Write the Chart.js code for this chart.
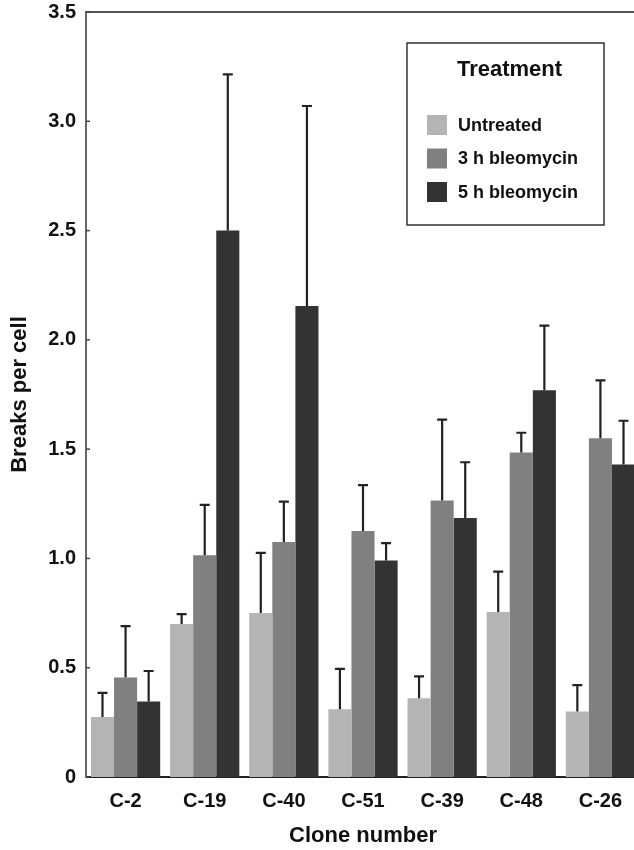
<!DOCTYPE html>
<html lang="en">
<head>
    <meta charset="UTF-8">
    <title>Breaks per cell by clone</title>
    <script src="https://cdn.jsdelivr.net/npm/chart.js"></script>
    <style>
        body, html {
            margin: 0;
            padding: 0;
            background: #fff;
            overflow: hidden;
        }
        canvas {
            display: block;
        }
    </style>
</head>
<body>
    <canvas id="breaksChart" width="640" height="850"></canvas>
    <script>
        const clones = ['C-2', 'C-19', 'C-40', 'C-51', 'C-39', 'C-48', 'C-26'];
        const seriesNames = ['Untreated', '3 h bleomycin', '5 h bleomycin'];
        const untreated = [0.275, 0.70, 0.75, 0.31, 0.36, 0.755, 0.30];
        const untreatedErr = [0.11, 0.045, 0.275, 0.185, 0.10, 0.185, 0.12];
        const bleo3h = [0.455, 1.015, 1.075, 1.125, 1.265, 1.485, 1.55];
        const bleo3hErr = [0.235, 0.23, 0.185, 0.21, 0.37, 0.09, 0.265];
        const bleo5h = [0.345, 2.50, 2.155, 0.99, 1.185, 1.77, 1.43];
        const bleo5hErr = [0.14, 0.715, 0.915, 0.08, 0.255, 0.295, 0.20];
        const yTickLabels = ['0', '0.5', '1.0', '1.5', '2.0', '2.5', '3.0', '3.5'];

        const barColors = ['#b4b4b4', '#808080', '#333333'];
        const FONT = "'Liberation Sans', Arial, sans-serif";

        // error bars, frame, inner tick marks
        const extrasPlugin = {
            id: 'extras',
            afterDatasetsDraw(chart) {
                const ctx = chart.ctx;
                const y = chart.scales.y;
                const area = chart.chartArea;
                ctx.save();
                ctx.strokeStyle = '#222';
                ctx.lineWidth = 2.2;
                chart.data.datasets.forEach((ds, i) => {
                    const meta = chart.getDatasetMeta(i);
                    meta.data.forEach((bar, j) => {
                        const top = y.getPixelForValue(ds.data[j] + ds.errors[j]);
                        ctx.beginPath();
                        ctx.moveTo(bar.x, bar.y);
                        ctx.lineTo(bar.x, top);
                        ctx.moveTo(bar.x - 5, top);
                        ctx.lineTo(bar.x + 5, top);
                        ctx.stroke();
                    });
                });
                // top frame line
                ctx.strokeStyle = '#555';
                ctx.lineWidth = 2;
                ctx.beginPath();
                ctx.moveTo(area.left, area.top);
                ctx.lineTo(area.right, area.top);
                ctx.stroke();
                // small inward ticks on the y axis
                ctx.lineWidth = 1.5;
                ctx.strokeStyle = '#444';
                y.ticks.forEach(t => {
                    const py = y.getPixelForValue(t.value);
                    ctx.beginPath();
                    ctx.moveTo(area.left, py);
                    ctx.lineTo(area.left + 4, py);
                    ctx.stroke();
                });
                ctx.restore();
            }
        };

        // boxed legend with title
        const legendBoxPlugin = {
            id: 'legendBox',
            afterDraw(chart) {
                const ctx = chart.ctx;
                const x0 = 407, y0 = 43, w = 197, h = 182;
                ctx.save();
                ctx.fillStyle = '#fff';
                ctx.fillRect(x0, y0, w, h);
                ctx.strokeStyle = '#333';
                ctx.lineWidth = 1.5;
                ctx.strokeRect(x0, y0, w, h);
                ctx.fillStyle = '#111';
                ctx.textAlign = 'center';
                ctx.textBaseline = 'middle';
                ctx.font = 'bold 22px ' + FONT;
                ctx.fillText('Treatment', x0 + w / 2 + 4, 70);
                ctx.textAlign = 'left';
                ctx.font = 'bold 18px ' + FONT;
                chart.data.datasets.forEach((ds, i) => {
                    const cy = 125 + i * 33.5;
                    ctx.fillStyle = ds.backgroundColor;
                    ctx.fillRect(427, cy - 10, 20, 20);
                    ctx.fillStyle = '#111';
                    ctx.fillText(ds.label, 458, cy + 1);
                });
                ctx.restore();
            }
        };

        const ctx = document.getElementById('breaksChart').getContext('2d');
        new Chart(ctx, {
            type: 'bar',
            data: {
                labels: clones,
                datasets: [
                    { label: seriesNames[0], data: untreated, errors: untreatedErr, backgroundColor: barColors[0] },
                    { label: seriesNames[1], data: bleo3h, errors: bleo3hErr, backgroundColor: barColors[1] },
                    { label: seriesNames[2], data: bleo5h, errors: bleo5hErr, backgroundColor: barColors[2] }
                ]
            },
            options: {
                responsive: false,
                animation: false,
                layout: { padding: { top: 12, left: 0, right: 0, bottom: 0 } },
                datasets: {
                    bar: { categoryPercentage: 0.875, barPercentage: 1.0, borderWidth: 0 }
                },
                scales: {
                    x: {
                        grid: { display: false, drawTicks: false },
                        border: { display: true, color: '#222', width: 2 },
                        ticks: {
                            color: '#111',
                            padding: 12,
                            font: { family: FONT, size: 20, weight: 'bold' }
                        },
                        title: {
                            display: true,
                            text: 'Clone number',
                            color: '#111',
                            padding: { top: 0, bottom: 1 },
                            font: { family: FONT, size: 22, weight: 'bold' }
                        },
                        afterFit(scale) { scale.height = 73; }
                    },
                    y: {
                        min: 0,
                        max: 3.5,
                        grid: { display: false, drawTicks: false },
                        border: { display: true, color: '#666', width: 2 },
                        ticks: {
                            stepSize: 0.5,
                            color: '#111',
                            padding: 10,
                            font: { family: FONT, size: 20, weight: 'bold', lineHeight: 0.1 },
                            callback: (v, i) => yTickLabels[i]
                        },
                        title: {
                            display: true,
                            text: 'Breaks per cell',
                            color: '#111',
                            padding: { top: 7, bottom: 0 },
                            font: { family: FONT, size: 22, weight: 'bold' }
                        },
                        afterFit(scale) { scale.width = 86; }
                    }
                },
                plugins: {
                    legend: { display: false },
                    tooltip: { enabled: false }
                }
            },
            plugins: [extrasPlugin, legendBoxPlugin]
        });
    </script>
</body>
</html>
